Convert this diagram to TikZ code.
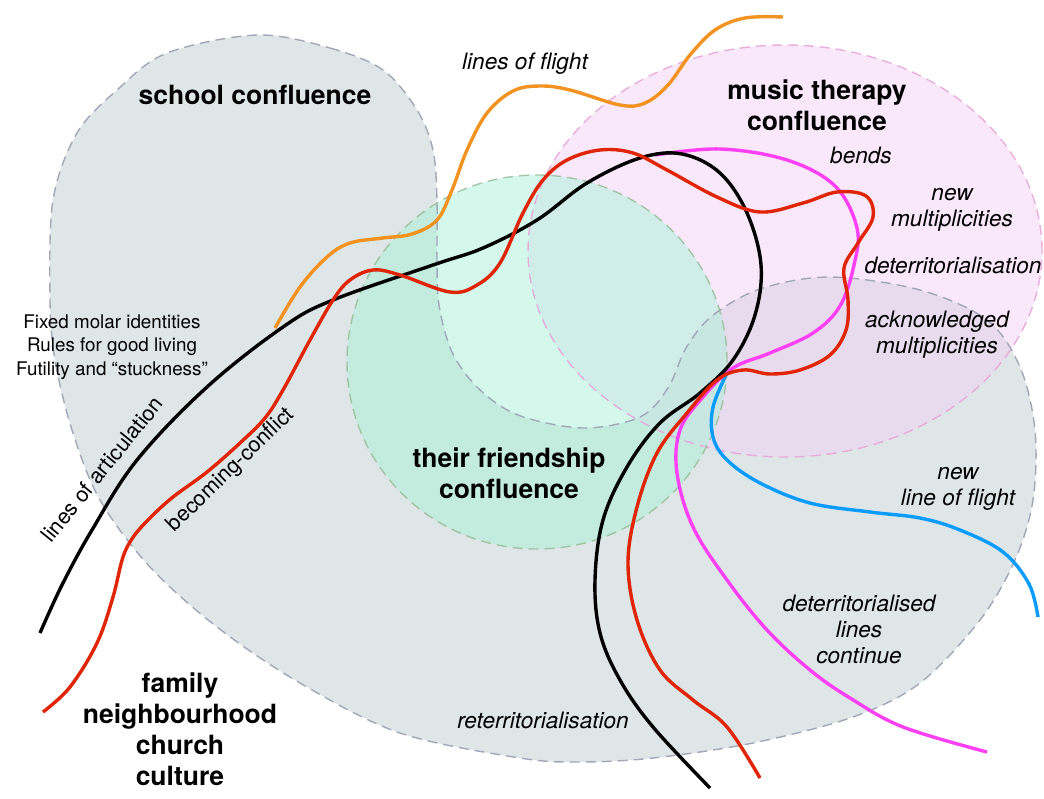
\documentclass[tikz,border=0pt]{standalone}
\usepackage{fontspec}
\setmainfont{TeX Gyre Heros}
\definecolor{zoneGray}{HTML}{DFE6E7}
\definecolor{zoneGrayLine}{HTML}{A0A8B8}
\definecolor{zonePink}{RGB}{243,209,245}
\definecolor{zonePinkLine}{HTML}{E6A3D6}
\definecolor{zoneMint}{RGB}{169,243,217}
\definecolor{zoneMintLine}{HTML}{98BD9B}
\definecolor{flowRed}{HTML}{E02506}
\definecolor{flowOrange}{HTML}{F29321}
\definecolor{flowMagenta}{HTML}{FF40F5}
\definecolor{flowBlue}{HTML}{0A9CFF}
\begin{document}
\begin{tikzpicture}[x=1pt,y=-1pt,
  zoneline/.style={dash pattern=on 10pt off 6pt, line width=1.4pt},
  flow/.style={line width=3.4pt, line join=round},
  heading/.style={font=\fontsize{26.5}{31}\selectfont\bfseries, align=center, anchor=base, inner sep=0pt},
  remark/.style={font=\fontsize{22.6}{26}\selectfont\itshape, align=center, anchor=base, inner sep=0pt},
  plainnote/.style={font=\fontsize{18.8}{23.5}\selectfont, align=center, anchor=base, inner sep=0pt},
  slanted/.style={font=\fontsize{21.5}{26}\selectfont, anchor=base, inner sep=0pt}]

\useasboundingbox (0,0) rectangle (1044,798);

% territories
\path[save path=\schoolzone] plot[smooth cycle, tension=0.55] coordinates {
  (257,35) (330,48) (383,70) (417,110) (433,150) (437,200) (437,260) (439,305)
  (452,352) (478,388) (518,415) (583,428) (640,417) (668,388) (686,348)
  (712,316) (760,289) (830,277) (920,290) (987,320) (1020,367) (1035,430)
  (1033,500) (1015,560) (980,620) (920,683) (853,717) (753,743) (653,758)
  (580,762) (520,758) (400,733) (300,683) (217,627) (150,567) (100,500)
  (72,430) (55,360) (50,300) (53,200) (77,133) (117,90) (167,53)};
\fill[zoneGray, use path=\schoolzone];
\fill[zonePink, fill opacity=0.5] (785,251) ellipse [x radius=257pt, y radius=206pt];
\fill[zoneMint, fill opacity=0.5] (537,362) ellipse [x radius=190pt, y radius=187pt];

\draw[zoneline, zoneGrayLine, use path=\schoolzone];
\draw[zoneline, zonePinkLine, draw opacity=0.85] (785,251) ellipse [x radius=257pt, y radius=206pt];
\draw[zoneline, zoneMintLine, draw opacity=0.85] (537,362) ellipse [x radius=190pt, y radius=187pt];

% new line of flight
\draw[flow, flowBlue] plot[smooth, tension=0.6] coordinates {
  (727,373) (713,407) (713,437) (727,460) (760,483) (810,503) (870,512)
  (920,518) (960,530) (1003,552) (1029,584) (1038,617)};

% bends and deterritorialised line
\draw[flow, flowMagenta] plot[smooth, tension=0.6] coordinates {
  (655,155) (720,149) (787,160) (835,186) (857,228) (854,265) (840,306)
  (813,333) (770,353) (733,368) (703,397) (680,430) (677,473) (693,527)
  (727,580) (767,630) (810,670) (850,698) (903,727) (987,752)};

% lines of articulation
\draw[flow, black] plot[smooth, tension=0.6] coordinates {
  (40,633) (62,585) (92,530) (137,460) (207,387) (283,327) (333,300)
  (433,265) (483,248) (537,220) (587,183) (640,158) (682,154) (720,173)
  (747,213) (761,265) (755,315) (733,360) (700,393) (660,423) (627,467)
  (603,520) (595,580) (600,633) (620,680) (653,727) (710,788)};

% lines of flight
\draw[flow, flowOrange] plot[smooth, tension=0.6] coordinates {
  (275,328) (300,287) (327,257) (350,243) (383,238) (412,234) (437,220)
  (452,190) (467,150) (487,113) (513,91) (540,86) (570,90) (620,105)
  (645,103) (668,85) (690,55) (715,30) (745,18) (783,17)};

% becoming-conflict
\draw[flow, flowRed] plot[smooth, tension=0.6] coordinates {
  (43,712) (70,687) (97,643) (113,597) (123,557) (134,536) (151,517)
  (173,497) (207,472) (240,443) (265,418) (283,390) (310,340) (333,300)
  (350,280) (373,270) (400,275) (450,292) (477,285) (500,263) (523,213)
  (543,180) (567,160) (600,150) (633,153) (667,170) (717,197) (760,212)
  (803,203) (837,192) (866,196) (873,217) (858,243) (844,268) (848,300)
  (846,330) (830,355) (800,370) (770,374) (743,370) (717,380) (687,413)
  (657,453) (637,507) (628,563) (637,620) (660,670) (693,700) (727,727)
  (760,778)};

% labels
\node[heading] (school) at (255,104) {school confluence};
\node[heading] (music) at (817,130) {music therapy\\confluence};
\node[heading] (friendship) at (509,498) {their friendship\\confluence};
\node[heading] (family) at (180,785) {family\\neighbourhood\\church\\culture};

\node[remark] (flightlbl) at (525,69) {lines of flight};
\node[remark] (bends) at (861,163) {bends};
\node[remark] (newmult) at (952,226) {new\\multiplicities};
\node[remark] (deterr) at (953,273) {deterritorialisation};
\node[remark] (ackmult) at (937,353) {acknowledged\\multiplicities};
\node[remark] (newflight) at (958,505) {new\\line of flight};
\node[remark] (continue) at (859,663) {deterritorialised\\lines\\continue};
\node[remark] (reterr) at (543,728) {reterritorialisation};

\node[plainnote] (molar) at (112,375) {Fixed molar identities\\Rules for good living\\Futility and “stuckness”};

\node[slanted, rotate=51] (articulation) at (108,474) {lines of articulation};
\node[slanted, rotate=44] (conflict) at (235,474) {becoming-conflict};
\end{tikzpicture}
\end{document}
